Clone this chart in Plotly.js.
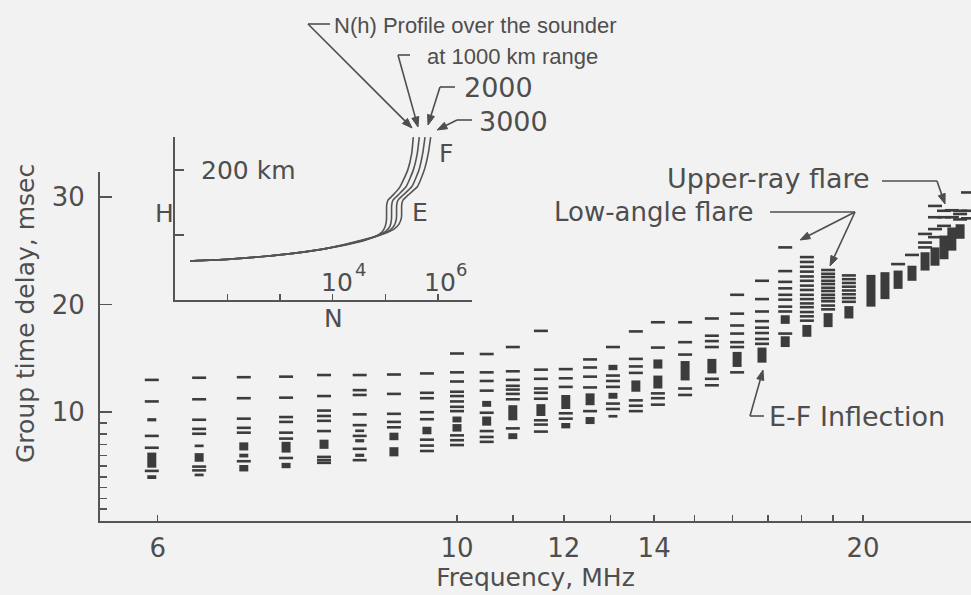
<!DOCTYPE html>
<html>
<head>
<meta charset="utf-8">
<script src="https://cdn.plot.ly/plotly-3.0.1.min.js"></script>
<style>
html, body { margin: 0; padding: 0; background: #f2f2f2; }
#chart { width: 971px; height: 595px; }
</style>
</head>
<body>
<div id="chart"></div>
<script>
// ---------- Oblique ionogram: echo columns (frequency, MHz) ----------
const freqMHz = [5.94, 6.44, 6.95, 7.47, 7.97, 8.47, 8.98, 9.50, 10.0, 10.52, 11.0, 11.54, 12.04, 12.55,
  13.05, 13.57, 14.09, 14.76, 15.45, 16.13, 16.83, 17.51, 18.17, 18.84, 19.52, 20.27, 20.76, 21.23, 21.74,
  22.23, 22.61, 22.96, 23.27, 23.6, 23.92];

// single echo traces (group delay, msec) for each column
const singleEchoes = [
  [13.0, 11.0, 7.8, 6.7, 4.55],
  [13.2, 11.2, 9.3, 8.45, 8.0, 4.95, 4.6],
  [13.25, 11.3, 9.4, 8.55, 8.1, 5.45],
  [13.3, 11.35, 9.55, 9.1, 8.1, 7.55, 5.75],
  [13.45, 11.5, 10.15, 9.65, 9.2, 8.25, 5.85, 5.55, 5.3],
  [13.45, 12.05, 11.6, 9.8, 8.8, 7.8, 6.6, 5.55],
  [13.5, 11.7, 9.85, 9.1, 8.6],
  [13.6, 11.8, 11.3, 10.0, 9.35, 7.45, 6.9, 6.4],
  [15.45, 13.7, 12.85, 11.9, 11.5, 11.0, 10.5, 10.1, 7.85, 7.4, 6.95],
  [15.4, 13.7, 12.9, 12.0, 9.95, 8.25, 7.7, 7.25],
  [16.05, 13.8, 13.0, 12.45, 12.1, 11.7, 11.2, 8.5],
  [17.55, 13.95, 13.1, 12.2, 11.8, 11.25, 9.25, 8.85, 8.2],
  [14.0, 13.15, 12.35, 9.9, 9.4],
  [14.9, 14.15, 13.3, 12.3, 10.1],
  [16.05, 13.4, 12.9, 12.35, 10.8, 10.3],
  [17.5, 14.95, 14.25, 13.65, 11.1, 10.6, 10.1],
  [18.35, 16.0, 11.75, 11.3, 10.7],
  [18.35, 16.5, 15.35, 12.2, 11.6],
  [18.7, 17.1, 16.6, 16.05, 13.1, 12.5],
  [20.9, 19.15, 18.05, 17.3, 16.5, 16.05, 13.7],
  [22.2, 20.5, 19.35, 18.45, 17.85, 17.35, 16.8, 16.35],
  [25.3, 23.1, 22.1, 21.5, 20.9, 20.45, 19.8, 19.35, 17.3],
  [24.4, 23.95, 23.5, 23.05, 22.6, 22.2, 21.75, 21.35, 20.9, 20.5, 20.1, 19.75, 19.3, 18.9, 18.5],
  [23.2, 22.85, 22.55, 22.2, 21.9, 21.55, 21.25, 20.9, 20.6, 20.3, 19.9, 19.55],
  [22.7, 22.35, 22.0, 21.65, 21.3, 20.95, 20.6, 20.25],
  [],
  [],
  [23.75],
  [24.6],
  [26.55, 25.75, 25.3],
  [29.15, 28.1, 27.0, 26.25],
  [28.7, 28.1, 27.3],
  [28.75, 28.1],
  [28.7, 28.4, 27.9],
  [30.4, 28.7, 28.0]
];

// dense echo bands [from, to] (msec) for each column
const echoBands = [
  [[9.15, 9.45], [4.85, 6.25], [3.8, 4.15]],
  [[6.75, 7.0], [5.4, 6.2], [4.05, 4.3]],
  [[6.45, 7.2], [5.8, 6.15], [4.5, 5.1]],
  [[6.25, 7.25], [4.8, 5.3]],
  [[6.6, 7.45]],
  [[8.15, 8.4], [7.2, 7.5], [5.85, 6.15]],
  [[7.4, 8.1], [5.9, 6.75]],
  [[7.95, 8.65]],
  [[9.05, 9.6], [8.2, 8.9]],
  [[10.5, 11.05], [8.75, 9.6]],
  [[9.25, 10.65], [7.5, 8.05]],
  [[9.65, 10.75]],
  [[10.3, 11.6], [8.5, 9.0]],
  [[10.65, 11.75], [8.9, 9.55]],
  [[13.9, 14.4], [11.25, 11.8], [9.5, 9.75]],
  [[11.9, 12.95]],
  [[14.05, 14.9], [12.2, 13.4]],
  [[12.95, 14.75]],
  [[13.6, 14.95]],
  [[14.2, 15.6]],
  [[14.6, 16.0]],
  [[18.2, 19.0], [16.05, 17.05]],
  [[17.0, 18.1]],
  [[17.9, 19.2]],
  [[18.7, 19.85]],
  [[19.8, 22.75]],
  [[20.5, 23.0]],
  [[21.45, 23.15]],
  [[22.2, 23.6]],
  [[23.15, 24.85]],
  [[23.6, 25.3]],
  [[24.2, 26.4]],
  [[25.0, 27.15]],
  [[26.1, 27.45]],
  []
];

// axis ticks
const freqTickVals = [6, 10, 12, 14, 20];
const freqTickText = ['6', '10', '12', '14', '20'];
const freqMinorVals = [11, 13, 15, 16, 17, 18, 19];
const delayTickVals = [10, 20, 30];
const delayMinorVals = [1, 2, 3, 4, 5, 6, 7, 8, 9];

// ---------- Inset: N(h) profiles (log10 N, height km) ----------
const nhSounderLogN = [1.285, 1.989, 2.617, 3.245, 3.891, 4.519, 4.804, 4.938, 4.995, 5.023, 5.027, 5.052, 5.147, 5.280, 5.427, 5.503, 5.533];
const nhSounderH    = [60.0, 62.6, 66.6, 71.8, 79.5, 89.7, 97.7, 104.6, 112.3, 123.1, 146.2, 153.8, 161.5, 174.3, 200, 225.7, 250.8];
const nh1000LogN = [1.285, 1.989, 2.617, 3.245, 3.891, 4.519, 4.842, 5.014, 5.090, 5.118, 5.122, 5.147, 5.242, 5.394, 5.533, 5.609, 5.647];
const nh1000H    = [60.0, 62.6, 66.6, 71.8, 79.5, 90.5, 98.5, 106.2, 113.8, 124.6, 146.2, 153.8, 161.5, 174.3, 200, 225.7, 250.8];
const nh2000LogN = [1.285, 1.989, 2.617, 3.245, 3.891, 4.557, 4.900, 5.090, 5.175, 5.213, 5.217, 5.242, 5.337, 5.503, 5.641, 5.712, 5.756];
const nh2000H    = [60.0, 62.6, 66.6, 71.8, 79.5, 91.5, 100.0, 107.7, 115.4, 126.2, 146.2, 153.8, 161.5, 174.3, 200, 225.7, 250.8];
const nh3000LogN = [1.285, 1.989, 2.617, 3.245, 3.891, 4.595, 4.957, 5.166, 5.261, 5.309, 5.312, 5.337, 5.432, 5.609, 5.742, 5.818, 5.864];
const nh3000H    = [60.0, 62.6, 66.6, 71.8, 79.5, 93.1, 101.5, 109.2, 116.9, 127.7, 146.2, 153.8, 161.5, 174.3, 200, 225.7, 250.8];

// ---------- build traces ----------
const ink = '#3c3c3c';
const gray = '#555555';
const textColor = '#4e4e4e';

const dashX = [], dashY = [];
freqMHz.forEach((f, i) => singleEchoes[i].forEach(d => { dashX.push(f); dashY.push(d); }));
const bandX = [], bandY = [];
freqMHz.forEach((f, i) => echoBands[i].forEach(b => { bandX.push(f, f, null); bandY.push(b[0], b[1], null); }));

const traces = [
  { type: 'scatter', mode: 'lines', x: bandX, y: bandY, xaxis: 'x', yaxis: 'y',
    line: { color: ink, width: 9 }, hoverinfo: 'skip', connectgaps: false },
  { type: 'scatter', mode: 'markers', x: dashX, y: dashY, xaxis: 'x', yaxis: 'y',
    marker: { symbol: 'line-ew', size: 10, line: { color: ink, width: 2.6 } }, hoverinfo: 'skip' }
];
[[nhSounderLogN, nhSounderH], [nh1000LogN, nh1000H], [nh2000LogN, nh2000H], [nh3000LogN, nh3000H]].forEach(c => {
  traces.push({ type: 'scatter', mode: 'lines', x: c[0], y: c[1], xaxis: 'x2', yaxis: 'y2',
    line: { color: gray, width: 1.6, shape: 'spline', smoothing: 0.5 }, hoverinfo: 'skip' });
});

// pixel -> paper helpers (plot area: x 100..971, y 100..521)
const X = px => (px - 100) / 871;
const Y = py => (521 - py) / 421;

const txt = (text, px, py, size, xanchor, family) => ({
  text, x: X(px), y: Y(py), xref: 'paper', yref: 'paper', showarrow: false,
  xanchor: xanchor || 'center', yanchor: 'middle',
  font: { size, color: textColor, family: family || 'DejaVu Sans' }
});
const seg = (x0, y0, x1, y1) => ({
  type: 'line', xref: 'paper', yref: 'paper', x0: X(x0), y0: Y(y0), x1: X(x1), y1: Y(y1),
  line: { color: textColor, width: 1.6 }
});
// leader arrow: a line plus a filled arrowhead (layout shapes)
const arrowShapes = (tipX, tipY, tailX, tailY) => {
  const dx = tipX - tailX, dy = tipY - tailY, len = Math.hypot(dx, dy);
  const ux = dx / len, uy = dy / len, L = 10, W = 3.6;
  const bx = tipX - ux * L, by = tipY - uy * L;
  const p1 = [bx - uy * W, by + ux * W], p2 = [bx + uy * W, by - ux * W];
  return [
    seg(tailX, tailY, bx, by),
    { type: 'path', xref: 'paper', yref: 'paper',
      path: `M ${X(tipX)} ${Y(tipY)} L ${X(p1[0])} ${Y(p1[1])} L ${X(p2[0])} ${Y(p2[1])} Z`,
      fillcolor: textColor, line: { color: textColor, width: 1 } }
  ];
};

const annotations = [
  txt('N(h) Profile over the sounder', 332, 25, 22, 'left', 'Liberation Sans'),
  txt('at 1000 km range', 425, 56, 22, 'left', 'Liberation Sans'),
  txt('2000', 462, 88, 27, 'left'),
  txt('3000', 477, 121, 27, 'left'),
  txt('200 km', 199, 170, 25, 'left'),
  txt('H', 164, 213, 25),
  txt('E', 420, 212, 25),
  txt('F', 446, 153, 25),
  txt('N', 333, 318, 25),
  txt('10', 337, 282, 25),
  txt('4', 360, 269, 18),
  txt('10', 440, 282, 25),
  txt('6', 461, 269, 18),
  txt('Upper-ray flare', 872, 178, 27, 'right'),
  txt('Low-angle flare', 755, 212, 26, 'right'),
  txt('E-F Inflection', 767, 416, 27, 'left'),
  Object.assign(txt('Group time delay, msec', 25, 314, 25), { textangle: -90 })
];
const shapes = [
  seg(308, 24, 330, 24),
  seg(398, 55, 410, 55),
  seg(440, 87, 455, 87),
  seg(457, 120, 472, 120),
  seg(882, 181, 937, 181),
  seg(770, 212, 855, 212),
  seg(750, 416, 764, 416),
  ...arrowShapes(412, 128, 308, 24),
  ...arrowShapes(418, 127, 398, 55),
  ...arrowShapes(428, 125, 440, 87),
  ...arrowShapes(437, 130, 457, 120),
  ...arrowShapes(945, 204, 937, 181),
  ...arrowShapes(800, 240, 855, 212),
  ...arrowShapes(830, 266, 855, 212),
  ...arrowShapes(763, 370, 750, 416)
];

const layout = {
  width: 971, height: 595,
  margin: { l: 100, r: 0, t: 100, b: 74, pad: 0 },
  paper_bgcolor: '#f2f2f2', plot_bgcolor: 'rgba(0,0,0,0)',
  showlegend: false,
  font: { family: 'DejaVu Sans', color: textColor },
  xaxis: {
    type: 'log', range: [0.7354, 1.381], domain: [0, 1], anchor: 'y',
    showline: true, linecolor: gray, linewidth: 2, showgrid: false, zeroline: false,
    ticks: 'inside', ticklen: 6, tickwidth: 1.5, tickcolor: gray,
    tickmode: 'array', tickvals: freqTickVals, ticktext: freqTickText,
    tickfont: { size: 26, color: textColor }, ticklabelstandoff: 3,
    minor: { tickmode: 'array', tickvals: freqMinorVals, ticks: 'inside', ticklen: 6, tickwidth: 1.5, tickcolor: gray, showgrid: false },
    title: { text: 'Frequency, MHz', font: { size: 25, color: textColor }, standoff: 2 }
  },
  yaxis: {
    range: [-0.1, 32.3], domain: [0, 349 / 421], anchor: 'x',
    showline: true, linecolor: gray, linewidth: 2, showgrid: false, zeroline: false,
    ticks: 'inside', ticklen: 12, tickwidth: 1.5, tickcolor: gray,
    tickmode: 'array', tickvals: delayTickVals,
    tickfont: { size: 26, color: textColor }, ticklabelstandoff: 8,
    minor: { tickmode: 'array', tickvals: delayMinorVals, ticks: 'inside', ticklen: 7, tickwidth: 1.5, tickcolor: gray, showgrid: false }
  },
  xaxis2: {
    range: [1.0, 6.65], domain: [X(175), X(472)], anchor: 'y2',
    showline: true, linecolor: gray, linewidth: 2, showgrid: false, zeroline: false,
    ticks: 'inside', ticklen: 6, tickwidth: 1.5, tickcolor: gray,
    tickmode: 'array', tickvals: [2, 3, 4, 5, 6], showticklabels: false
  },
  yaxis2: {
    range: [0, 251], domain: [Y(300), Y(137)], anchor: 'x2',
    showline: true, linecolor: gray, linewidth: 2, showgrid: false, zeroline: false,
    ticks: 'inside', ticklen: 9, tickwidth: 1.5, tickcolor: gray,
    tickmode: 'array', tickvals: [100, 200], showticklabels: false
  },
  annotations, shapes
};

Plotly.newPlot('chart', traces, layout, { staticPlot: true, displayModeBar: false });
</script>
</body>
</html>
